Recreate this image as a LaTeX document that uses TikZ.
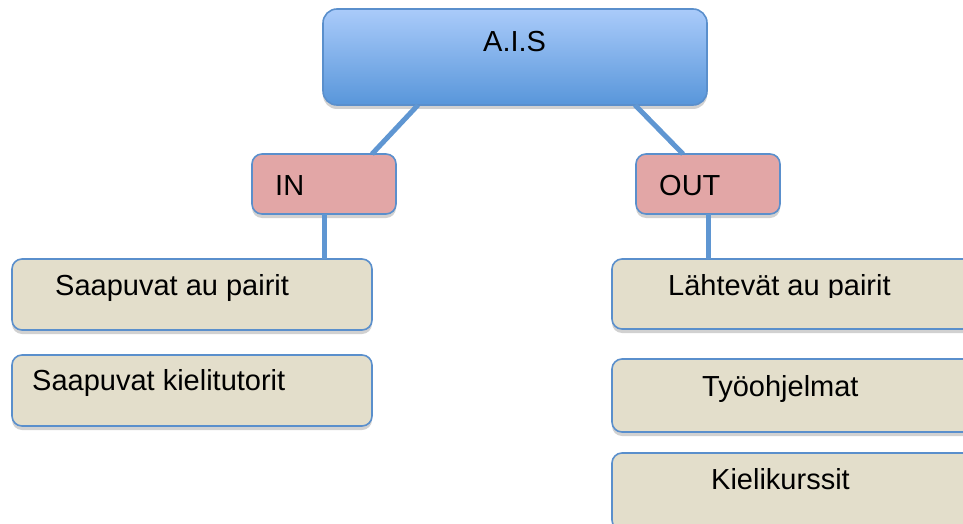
\documentclass[tikz,border=0pt]{standalone}
\usepackage{fontspec}
\setmainfont{Liberation Sans}
\usetikzlibrary{shadows,calc}
\definecolor{aistop}{HTML}{AACBFA}
\definecolor{aisbot}{HTML}{5896DA}
\definecolor{edgeblue}{HTML}{5A8FCC}
\definecolor{pinkfill}{HTML}{E2A6A6}
\definecolor{tanfill}{HTML}{E3DECB}
\definecolor{linkblue}{HTML}{5F96D2}
\tikzset{
  boxbase/.style={rectangle, draw=edgeblue, line width=1.6pt, inner sep=0pt, outer sep=0pt,
    drop shadow={shadow xshift=0pt, shadow yshift=-4pt, opacity=0.18, fill=black}},
  topbox/.style={boxbase, rounded corners=14pt, top color=aistop, bottom color=aisbot,
    minimum width=384pt, minimum height=96pt},
  iobox/.style={boxbase, rounded corners=10pt, fill=pinkfill, minimum width=144pt, minimum height=60pt},
  itembox/.style={boxbase, rounded corners=10pt, fill=tanfill, minimum width=360pt},
  rightbox/.style={boxbase, rounded corners=10pt, fill=tanfill, minimum width=363pt},
  lbl/.style={anchor=base west, inner sep=0pt, font=\fontsize{29}{34}\selectfont, text=black},
  link/.style={draw=linkblue, line width=5pt}
}
\begin{document}
\begin{tikzpicture}[x=1pt,y=-1pt]
\useasboundingbox (0,0) rectangle (963,524);
\clip (0,0) rectangle (963,524);
% boxes
\node[topbox] (ais) at (515,57) {};
\node[iobox] (in) at (324,184) {};
\node[iobox] (out) at (708,184) {};
\node[itembox, minimum height=71pt] (sap) at (192,294.5) {};
\node[itembox, minimum height=71pt] (kiel) at (192,390.5) {};
\node[rightbox, minimum height=70pt] (lah) at (793.5,294) {};
\node[rightbox, minimum height=73pt] (tyo) at (793.5,395.5) {};
\node[rightbox, minimum height=77pt] (kurs) at (793.5,491.5) {};
% connectors
\draw[link] ($(ais.south west)+(95,0)$) -- ($(in.north west)+(120,0)$);
\draw[link] ($(ais.south west)+(312,0)$) -- ($(out.north west)+(47,0)$);
\draw[link] (in.south) -- (in.south |- sap.north);
\draw[link] (out.south) -- (out.south |- lah.north);
% texts
\node[lbl] (tais) at (483,52) {A.I.S};
\node[lbl] (tin) at (275,195) {IN};
\node[lbl] (tout) at (659,195) {OUT};
\node[lbl] (tsap) at (55,295) {Saapuvat au pairit};
\node[lbl] (tkiel) at (32,390) {Saapuvat kielitutorit};
\begin{scope}
\clip (600,250) rectangle (963,297);
\node[lbl] (tlah) at (668,295) {Lähtevät au pairit};
\end{scope}
\node[lbl] (ttyo) at (702,396) {Työohjelmat};
\node[lbl] (tkurs) at (711,489) {Kielikurssit};
\end{tikzpicture}
\end{document}
